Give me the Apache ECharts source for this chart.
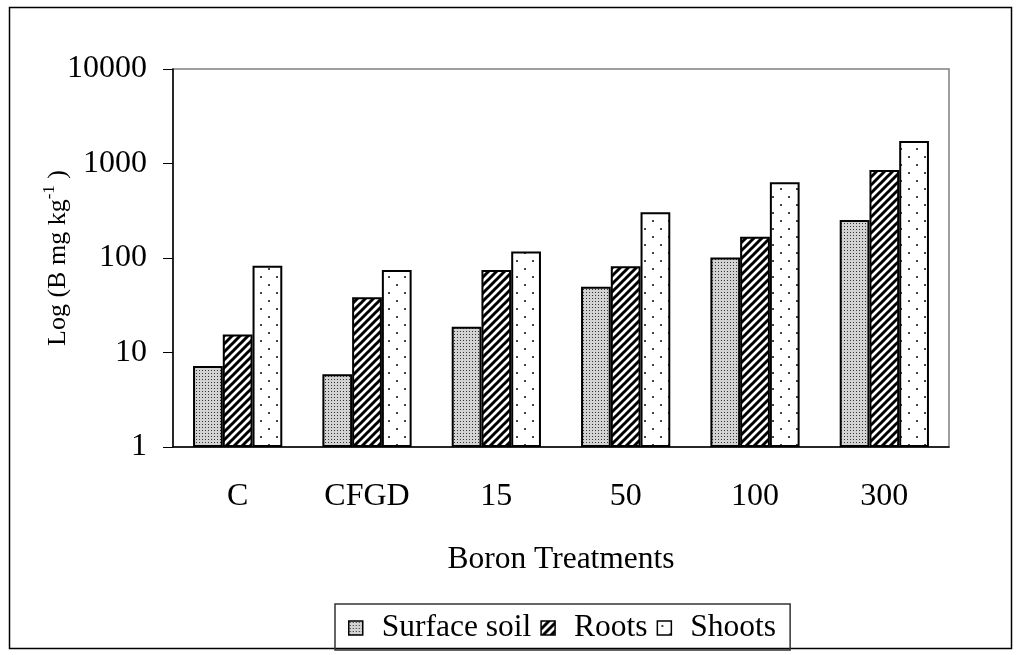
<!DOCTYPE html>
<html>
<head>
<meta charset="utf-8">
<script src="https://cdn.jsdelivr.net/npm/echarts@6/dist/echarts.min.js"></script>
<style>
html,body{margin:0;padding:0;background:#fff;}
#chart{width:1021px;height:655px;}
</style>
</head>
<body>
<div id="chart"></div>
<script>
const categories = ['C', 'CFGD', '15', '50', '100', '300'];
const surfaceSoil = [7.2, 5.9, 18.7, 49.5, 101, 252];
const roots = [15.5, 38.5, 74.5, 82, 168, 853];
const shoots = [83, 74.5, 117, 305, 632, 1730];
const seriesNames = ['Surface soil', 'Roots', 'Shoots'];
const yMin = 1, yMax = 10000;

function makeCanvas(w, h, draw) {
  const c = document.createElement('canvas');
  c.width = w; c.height = h;
  draw(c.getContext('2d'));
  return c;
}
const surfacePattern = makeCanvas(3, 3, ctx => {
  ctx.fillStyle = '#d2d2d2'; ctx.fillRect(0, 0, 3, 3);
  ctx.fillStyle = '#333'; ctx.fillRect(1, 1, 1, 1);
});
const rootsPattern = makeCanvas(8, 8, ctx => {
  ctx.fillStyle = '#fff'; ctx.fillRect(0, 0, 8, 8);
  ctx.strokeStyle = '#000'; ctx.lineWidth = 3;
  ctx.beginPath();
  ctx.moveTo(-4, 4); ctx.lineTo(4, -4);
  ctx.moveTo(0, 8); ctx.lineTo(8, 0);
  ctx.moveTo(4, 12); ctx.lineTo(12, 4);
  ctx.stroke();
});
const shootsPattern = makeCanvas(16, 16, ctx => {
  ctx.fillStyle = '#fff'; ctx.fillRect(0, 0, 16, 16);
  ctx.fillStyle = '#444';
  ctx.fillRect(4, 4, 2, 2);
  ctx.fillRect(12, 12, 2, 2);
});

const font = 'Liberation Serif';
const chart = echarts.init(document.getElementById('chart'), null, {renderer: 'canvas'});

function barSeries(name, data, pattern) {
  return {
    name: name,
    type: 'bar',
    data: data,
    barGap: '0%',
    barCategoryGap: '31%',
    itemStyle: {
      color: {image: pattern, repeat: 'repeat'},
      borderColor: '#000',
      borderWidth: 2
    },
    emphasis: {disabled: true},
    animation: false
  };
}

chart.setOption({
  animation: false,
  backgroundColor: '#fff',
  textStyle: {fontFamily: font, color: '#000'},
  graphic: [{
    type: 'rect',
    shape: {x: 9.5, y: 7.5, width: 1002, height: 641},
    style: {fill: 'none', stroke: '#000', lineWidth: 1.5},
    silent: true,
    z: -1
  }],
  grid: {
    left: 173, right: 72, top: 69, bottom: 208,
    show: true, borderColor: '#808080', borderWidth: 1.5,
    containLabel: false
  },
  legend: {
    data: seriesNames,
    bottom: 5,
    left: 335,
    itemWidth: 14,
    itemHeight: 14,
    itemGap: 9,
    icon: 'rect',
    borderColor: '#333',
    borderWidth: 1.5,
    borderRadius: 0,
    padding: [8, 14, 6, 13],
    itemStyle: {borderWidth: 1.5, borderColor: '#000'},
    textStyle: {fontFamily: font, fontSize: 31.5, color: '#000', padding: [0, 0, 0, 14]},
    selectedMode: false
  },
  xAxis: {
    type: 'category',
    data: categories,
    name: 'Boron Treatments',
    nameLocation: 'middle',
    nameGap: 97,
    nameMoveOverlap: false,
    nameTextStyle: {fontFamily: font, fontSize: 31.5, color: '#000'},
    axisLine: {lineStyle: {color: '#000', width: 1.5}},
    axisTick: {show: false},
    axisLabel: {fontFamily: font, fontSize: 32, color: '#000', margin: 34}
  },
  yAxis: {
    type: 'log',
    logBase: 10,
    min: yMin,
    max: yMax,
    name: '{a|Log (B mg kg}{s|-1}{a| )}',
    nameLocation: 'middle',
    nameGap: 98,
    nameMoveOverlap: false,
    nameTextStyle: {
      fontFamily: font, color: '#000',
      rich: {
        a: {fontFamily: font, fontSize: 26, color: '#000', lineHeight: 34},
        s: {fontFamily: font, fontSize: 17, color: '#000', verticalAlign: 'top'}
      }
    },
    axisLine: {show: true, lineStyle: {color: '#000', width: 1.5}},
    axisTick: {show: true, inside: false, length: 10, lineStyle: {color: '#000', width: 1}},
    axisLabel: {
      fontFamily: font, fontSize: 32, color: '#000', margin: 26,
      formatter: v => String(Math.round(v))
    },
    splitLine: {show: false}
  },
  series: [
    barSeries(seriesNames[0], surfaceSoil, surfacePattern),
    barSeries(seriesNames[1], roots, rootsPattern),
    barSeries(seriesNames[2], shoots, shootsPattern)
  ]
});
</script>
</body>
</html>
